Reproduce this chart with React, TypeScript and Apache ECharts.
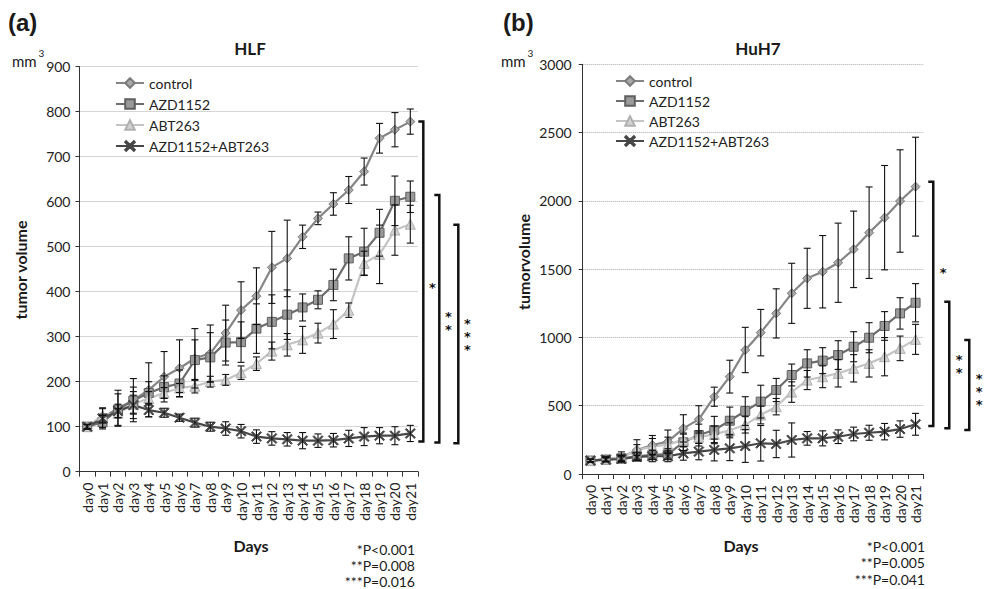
import React, { useEffect, useRef } from "react";
import * as echarts from "echarts";

const days = Array.from({ length: 22 }, (_, i) => "day" + i);
const seriesNames = ["control", "AZD1152", "ABT263", "AZD1152+ABT263"];

// Panel (a) HLF
const aControl = [100, 120, 141, 159, 182, 211, 230, 252, 263, 308, 359, 390, 454, 474, 522, 563, 595, 626, 667, 741, 760, 778];
const aControlErr = [5, 22, 40, 48, 60, 56, 63, 66, 63, 62, 63, 63, 80, 85, 26, 14, 25, 30, 30, 33, 38, 28];
const aAzd = [100, 110, 138, 158, 175, 188, 196, 248, 254, 287, 288, 318, 333, 349, 365, 382, 415, 474, 489, 531, 602, 611];
const aAzdErr = [5, 15, 35, 30, 25, 25, 30, 45, 55, 50, 45, 55, 60, 55, 30, 20, 35, 48, 52, 52, 55, 35];
const aAbt = [100, 125, 130, 150, 163, 175, 186, 190, 200, 204, 220, 240, 268, 282, 293, 308, 328, 359, 463, 483, 537, 550];
const aAbtErr = [5, 15, 10, 20, 15, 12, 10, 15, 12, 12, 15, 15, 20, 25, 30, 22, 32, 16, 27, 65, 56, 42];
const aCombo = [100, 118, 135, 148, 137, 131, 120, 109, 100, 96, 90, 78, 74, 72, 69, 69, 70, 74, 78, 80, 80, 85];
const aComboErr = [5, 10, 15, 30, 15, 10, 8, 10, 10, 15, 15, 15, 15, 15, 18, 15, 15, 18, 20, 18, 20, 18];

// Panel (b) HuH7
const bControl = [98, 110, 122, 176, 212, 237, 334, 400, 566, 713, 908, 1035, 1176, 1323, 1433, 1481, 1547, 1645, 1767, 1877, 1999, 2104];
const bControlErr = [10, 20, 40, 75, 70, 85, 100, 100, 70, 120, 166, 170, 180, 220, 220, 265, 290, 280, 335, 382, 375, 362];
const bAzd = [98, 105, 115, 130, 140, 145, 232, 285, 322, 390, 461, 530, 615, 725, 810, 830, 871, 932, 998, 1084, 1176, 1254];
const bAzdErr = [10, 15, 20, 30, 35, 40, 60, 80, 100, 100, 105, 120, 85, 80, 100, 95, 105, 110, 110, 105, 115, 140];
const bAbt = [98, 110, 120, 175, 200, 215, 250, 270, 290, 320, 360, 432, 493, 600, 688, 712, 737, 774, 810, 859, 920, 986];
const bAbtErr = [10, 15, 20, 40, 60, 55, 50, 45, 60, 55, 60, 65, 60, 75, 70, 80, 100, 100, 100, 140, 90, 110];
const bCombo = [98, 105, 110, 125, 130, 130, 151, 164, 176, 188, 205, 225, 220, 249, 261, 261, 273, 293, 302, 310, 329, 364];
const bComboErr = [10, 15, 20, 30, 40, 40, 50, 60, 80, 90, 120, 130, 100, 125, 50, 55, 50, 50, 55, 60, 60, 80];

// Significance brackets: [top, bottom, label centre] in data units
const aBrackets = [[778, 67, 415], [615, 65, 337], [549, 63, 307]];
const bBrackets = [[2140, 351, 1494], [1262, 335, 813], [981, 322, 626]];
const bracketStarCounts = [1, 2, 3];
const aPvalues = ["*P<0.001", "**P=0.008", "***P=0.016"];
const bPvalues = ["*P<0.001", "**P=0.005", "***P=0.041"];

const FONT = 'Lato, "Open Sans", sans-serif';
const STAR_FONT = '"DejaVu Sans", sans-serif';
const XPATH = "path://M0,1 L1,0 L5,4 L9,0 L10,1 L6,5 L10,9 L9,10 L5,6 L1,10 L0,9 L4,5 Z";

const styles = [
  { symbol: "diamond", line: "#858585", fill: "#a9a9a9", border: "#7a7a7a", size: 9 },
  { symbol: "rect", line: "#6c6c6c", fill: "#9a9a9a", border: "#5f5f5f", size: 9 },
  { symbol: "triangle", line: "#c4c4c4", fill: "#d2d2d2", border: "#b0b0b0", size: 10 },
  { symbol: XPATH, line: "#474747", fill: "#474747", border: "#474747", size: 10 },
];

const aBracketOffsets = [13, 29, 48];
const bBracketOffsets = [17.7, 33.7, 53.7];

function lineSeries(name: string, data: number[], g: number, s: any) {
  return {
    type: "line",
    name,
    data,
    xAxisIndex: g,
    yAxisIndex: g,
    symbol: s.symbol,
    symbolSize: s.size,
    lineStyle: { color: s.line, width: 2.2 },
    itemStyle: { color: s.fill, borderColor: s.border, borderWidth: 1 },
    z: 3,
  };
}

function errSeries(data: number[], err: number[], g: number) {
  return {
    type: "custom",
    xAxisIndex: g,
    yAxisIndex: g,
    clip: false,
    z: 4,
    encode: { x: 0, y: [1, 2] },
    data: data.map((v, i) => [i, v - err[i], v + err[i]]),
    renderItem: (params: any, api: any) => {
      const x = api.value(0);
      const top = api.coord([x, api.value(2)]);
      const bot = api.coord([x, api.value(1)]);
      const w = 3.5;
      const style = { stroke: "#111", lineWidth: 1.1 };
      return {
        type: "group",
        children: [
          { type: "line", shape: { x1: top[0], y1: top[1], x2: bot[0], y2: bot[1] }, style },
          { type: "line", shape: { x1: top[0] - w, y1: top[1], x2: top[0] + w, y2: top[1] }, style },
          { type: "line", shape: { x1: bot[0] - w, y1: bot[1], x2: bot[0] + w, y2: bot[1] }, style },
        ],
      };
    },
  };
}

function bracketSeries(br: number[][], g: number, offsets: number[], textOff: number) {
  return {
    type: "custom",
    xAxisIndex: g,
    yAxisIndex: g,
    clip: false,
    z: 5,
    encode: { x: 0, y: [1, 2] },
    data: br.map((b) => [21, b[0], b[1], b[2]]),
    renderItem: (params: any, api: any) => {
      const i = params.dataIndex;
      const x = api.value(0);
      const top = api.coord([x, api.value(1)]);
      const bot = api.coord([x, api.value(2)]);
      const ty = api.coord([x, api.value(3)])[1];
      const xx = top[0] + offsets[i];
      const n = bracketStarCounts[i];
      const step = 13.3;
      const children: any[] = [
        {
          type: "polyline",
          shape: { points: [[xx - 5, top[1]], [xx, top[1]], [xx, bot[1]], [xx - 5, bot[1]]] },
          style: { stroke: "#111", lineWidth: 2.5, fill: null },
        },
      ];
      for (let k = 0; k < n; k++) {
        children.push({
          type: "text",
          x: xx + textOff,
          y: ty + (k - (n - 1) / 2) * step + 3,
          style: {
            text: "*",
            fontSize: 13,
            fontWeight: "bold",
            fontFamily: STAR_FONT,
            fill: "#111",
            align: "center",
            verticalAlign: "middle",
          },
        });
      }
      return { type: "group", children };
    },
  };
}

function txt(text: string, x: number, y: number, opts: any = {}) {
  return {
    type: "text",
    x,
    y,
    rotation: opts.rotation || 0,
    style: {
      text,
      fontSize: opts.size || 14,
      fontWeight: opts.bold ? "bold" : "normal",
      fontFamily: opts.family || FONT,
      fill: "#1a1a1a",
      align: opts.align || "left",
      verticalAlign: "middle",
    },
  };
}

export default function App() {
  const ref = useRef<HTMLDivElement>(null);
  useEffect(() => {
    if (!ref.current) return;
    const chart = echarts.init(ref.current, null, { renderer: "svg" });
    const xAxisBase = (g: number) => ({
      type: "category",
      gridIndex: g,
      data: days,
      axisLine: { lineStyle: { color: "#333", width: 1 } },
      axisTick: { show: true, length: 5, interval: 0, lineStyle: { color: "#333" } },
      axisLabel: { rotate: 90, interval: 0, fontSize: 14, margin: 11, color: "#222", fontFamily: FONT },
      splitLine: { show: false },
    });
    const yAxisBase = (g: number, max: number, interval: number, margin: number) => ({
      type: "value",
      gridIndex: g,
      min: 0,
      max,
      interval,
      axisLine: { show: true, lineStyle: { color: "#333", width: 1 } },
      axisTick: { show: true, length: 4, lineStyle: { color: "#333" } },
      axisLabel: {
        fontSize: 14,
        color: "#222",
        margin,
        fontFamily: FONT,
        formatter: (v: number) => String(v),
      },
      splitLine: { show: true, lineStyle: { type: "dotted", color: "#aaa" } },
    });
    const legendBase = (left: number, top: number, gap: number) => ({
      orient: "vertical",
      left,
      top,
      itemWidth: 28,
      itemHeight: 12,
      itemGap: gap,
      data: seriesNames,
      selectedMode: false,
      textStyle: { fontSize: 14, color: "#222", fontFamily: FONT },
    });
    const aSets = [[aControl, aControlErr], [aAzd, aAzdErr], [aAbt, aAbtErr], [aCombo, aComboErr]];
    const bSets = [[bControl, bControlErr], [bAzd, bAzdErr], [bAbt, bAbtErr], [bCombo, bComboErr]];
    const series: any[] = [];
    aSets.forEach((s, i) => series.push(lineSeries(seriesNames[i], s[0], 0, styles[i])));
    bSets.forEach((s, i) => series.push(lineSeries(seriesNames[i], s[0], 1, styles[i])));
    aSets.forEach((s) => series.push(errSeries(s[0], s[1], 0)));
    bSets.forEach((s) => series.push(errSeries(s[0], s[1], 1)));
    series.push(bracketSeries(aBrackets, 0, aBracketOffsets, 9));
    series.push(bracketSeries(bBrackets, 1, bBracketOffsets, 10));

    const graphics: any[] = [
      txt("(a)", 8, 22, { size: 24, bold: true, family: '"Liberation Sans", Arial, sans-serif' }),
      txt("(b)", 503, 22, { size: 24, bold: true, family: '"Liberation Sans", Arial, sans-serif' }),
      txt("HLF", 250, 48, { size: 17, bold: true, align: "center" }),
      txt("HuH7", 758, 48, { size: 17, bold: true, align: "center" }),
      txt("mm", 12, 61, { size: 15 }),
      txt("3", 38.5, 53, { size: 10 }),
      txt("mm", 501, 61, { size: 15 }),
      txt("3", 527.5, 53, { size: 10 }),
      txt("tumor volume", 20, 270, { size: 16, bold: true, align: "center", rotation: Math.PI / 2 }),
      txt("tumorvolume", 523, 262, { size: 16, bold: true, align: "center", rotation: Math.PI / 2 }),
      txt("Days", 251, 545, { size: 16, bold: true, align: "center" }),
      txt("Days", 741, 545, { size: 16, bold: true, align: "center" }),
    ];
    const aPy = [549, 565.5, 581];
    const bPy = [546, 562.5, 579];
    aPvalues.forEach((t, i) => graphics.push(txt(t, 415, aPy[i], { size: 14, align: "right" })));
    bPvalues.forEach((t, i) => graphics.push(txt(t, 925, bPy[i], { size: 14, align: "right" })));

    chart.setOption({
      animation: false,
      backgroundColor: "#ffffff",
      grid: [
        { left: 79.5, top: 66.7, width: 338.5, height: 405 },
        { left: 582.7, top: 64.3, width: 340.6, height: 409.7 },
      ],
      xAxis: [xAxisBase(0), xAxisBase(1)],
      yAxis: [yAxisBase(0, 900, 100, 9), yAxisBase(1, 3000, 500, 11)],
      legend: [legendBase(110, 71, 7), legendBase(610, 69, 6)],
      series,
      graphic: graphics,
    });
    return () => chart.dispose();
  }, []);
  return (
    <div
      ref={ref}
      style={{ position: "fixed", left: 0, top: 0, width: 986, height: 589, background: "#fff" }}
    />
  );
}
